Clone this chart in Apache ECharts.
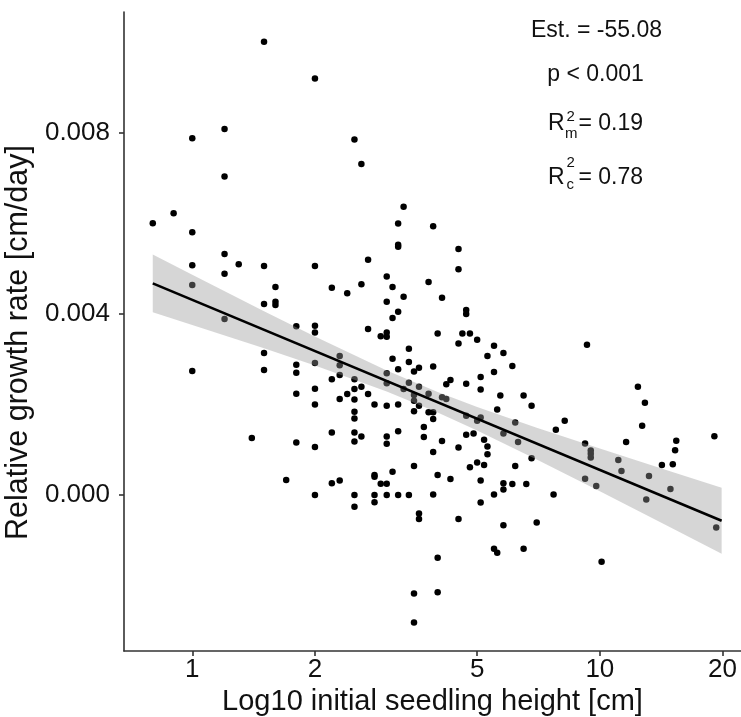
<!DOCTYPE html>
<html>
<head>
<meta charset="utf-8">
<script src="https://cdn.jsdelivr.net/npm/echarts@6/dist/echarts.min.js"></script>
<style>
  html, body { margin: 0; padding: 0; background: #fff; }
  #chart { width: 741px; height: 717px; }
</style>
</head>
<body>
<div id="chart"></div>
<script>
// initial seedling height [cm] and relative growth rate [cm/day]
const heightCm = [
  1.5, 2.0, 1.2, 1.0, 2.5, 2.6, 1.2, 3.3, 0.8, 0.9,
  3.2, 1.0, 3.2, 3.2, 2.7, 1.2, 1.0, 1.3, 1.5, 2.0,
  1.2, 3.0, 3.8, 2.6, 3.1, 1.6, 2.2, 2.4, 3.3, 3.0,
  1.5, 1.6, 1.6, 3.2, 3.1, 1.0, 1.2, 1.8, 2.0, 2.7,
  3.9, 4.5, 4.5, 4.1, 4.7, 4.7,
  2.0, 2.9, 3.0, 3.0, 3.4, 1.5, 3.1, 3.4, 3.5, 3.6,
  1.0, 1.5, 1.8, 1.8, 2.0, 2.3, 2.3, 2.3, 2.2, 3.2,
  3.0, 3.0, 3.4, 3.6, 3.5, 3.5, 3.3, 2.5, 2.6, 2.5,
  2.4, 2.3, 2.7, 2.5, 1.8, 2.0, 2.0, 2.8, 3.0, 3.2,
  3.6, 3.5, 3.8, 3.9, 2.5, 2.5, 3.7, 3.7, 3.2, 3.0,
  3.0, 2.6, 2.5, 2.5, 2.2, 1.4, 1.8, 2.0, 3.5, 3.1,
  2.8, 2.8, 2.9, 3.0, 2.3, 2.2, 1.7, 2.0, 2.5, 2.8,
  3.0, 3.2, 3.4, 2.5, 2.8, 3.6, 3.6, 3.5, 3.5,
  4.0, 4.6, 4.8, 4.5, 5.0, 5.5, 5.3, 5.8, 6.1, 5.5,
  3.9, 9.3, 5.1, 5.1, 4.7, 4.2, 4.3, 3.8, 4.1, 4.2,
  3.9, 5.7, 6.5, 5.6, 6.8, 4.7, 5.0, 5.1, 6.2, 5.8,
  6.3, 4.7, 4.9, 4.1, 4.5, 5.2, 5.3, 5.3, 5.0, 4.8,
  5.2, 3.9, 4.0, 4.3, 5.1, 5.8, 5.8, 6.1, 6.6, 6.2,
  6.8, 3.9, 5.5, 5.1, 7.7, 4.5, 5.8, 7.0, 5.5, 5.6,
  6.5, 4.0, 4.0, 10.1, 7.8, 8.2, 9.2, 9.5, 9.5, 9.5,
  9.2, 9.8, 12.4, 12.9, 12.7, 11.6, 11.1, 11.3, 13.2, 13.0,
  14.2, 15.1, 15.3, 15.4, 14.9, 19.1, 19.3
];
const growthRate = [
  0.01001, 0.00920, 0.00808, 0.00788, 0.00785, 0.00731, 0.00703, 0.00636, 0.00600, 0.00622,
  0.00599, 0.00580, 0.00548, 0.00552, 0.00519, 0.00532, 0.00507, 0.00509, 0.00505, 0.00505,
  0.00488, 0.00482, 0.00470, 0.00465, 0.00459, 0.00459, 0.00457, 0.00445, 0.00437, 0.00426,
  0.00421, 0.00426, 0.00419, 0.00404, 0.00390, 0.00463, 0.00388, 0.00372, 0.00373, 0.00366,
  0.00593, 0.00543, 0.00498, 0.00435, 0.00408, 0.00399,
  0.00358, 0.00350, 0.00358, 0.00349, 0.00322, 0.00313, 0.00300, 0.00293, 0.00272, 0.00280,
  0.00273, 0.00275, 0.00287, 0.00269, 0.00291, 0.00306, 0.00286, 0.00264, 0.00255, 0.00277,
  0.00268, 0.00246, 0.00247, 0.00238, 0.00220, 0.00207, 0.00233, 0.00255, 0.00238, 0.00233,
  0.00222, 0.00211, 0.00222, 0.00210, 0.00223, 0.00234, 0.00199, 0.00199, 0.00196, 0.00199,
  0.00196, 0.00184, 0.00182, 0.00182, 0.00183, 0.00168, 0.00149, 0.00127, 0.00140, 0.00128,
  0.00112, 0.00128, 0.00137, 0.00117, 0.00137, 0.00125, 0.00115, 0.00105, 0.00063, 0.00050,
  0.00043, 0.00039, 0.00024, 0.00024, 0.00031, 0.00025, 0.00032, -0.00001, -0.00001, -0.00001,
  -0.00001, -0.00001, -0.00001, -0.00027, -0.00017, -0.00042, -0.00054, -0.00219, -0.00283,
  0.00356, 0.00356, 0.00356, 0.00334, 0.00342, 0.00329, 0.00306, 0.00313, 0.00284, 0.00271,
  0.00283, 0.00331, 0.00260, 0.00232, 0.00245, 0.00244, 0.00253, 0.00223, 0.00215, 0.00211,
  0.00167, 0.00219, 0.00219, 0.00188, 0.00196, 0.00174, 0.00163, 0.00170, 0.00159, 0.00135,
  0.00116, 0.00132, 0.00135, 0.00118, 0.00104, 0.00121, 0.00106, 0.00089, 0.00071, 0.00060,
  0.00065, 0.00094, 0.00043, 0.00034, 0.00031, 0.00025, 0.00011, 0.00023, 0.00023, 0.00063,
  0.00080, 0.00000, 0.00000, -0.00018, 0.00000, -0.00054, -0.00068, -0.00062, -0.00120, -0.00129,
  -0.00120, -0.00140, -0.00216, -0.00149, 0.00143, 0.00163, 0.00113, 0.00097, 0.00090, 0.00082,
  0.00035, 0.00019, 0.00238, 0.00203, 0.00152, 0.00116, 0.00076, 0.00052, 0.00041, -0.00011,
  0.00065, 0.00067, 0.00098, 0.00119, 0.00012, 0.00129, -0.00073
];

// fitted line and its confidence band
const fitHeights = [0.8, 19.9];
const fitRate = [0.004668, -0.000580];
const bandHeights = [0.8, 1, 1.5, 2, 3, 4, 5, 7, 10, 15, 19.9];
const bandLower = [0.004028, 0.003748, 0.003231, 0.002853, 0.002280, 0.001815, 0.001416, 0.000776, 0.000072, -0.000739, -0.001310];
const bandUpper = [0.005308, 0.004860, 0.004053, 0.003491, 0.002740, 0.002265, 0.001936, 0.001478, 0.001016, 0.000503, 0.000148];

// axes
const xTicks = [1, 2, 5, 10, 20];
const xRange = [0.68, 22.2];
const yTicks = [0, 0.004, 0.008];
const yRange = [-0.003461, 0.010669];

// model statistics
const estText = "Est. = -55.08";
const pText = "p < 0.001";
const r2mValue = "= 0.19";
const r2cValue = "= 0.78";

const FONT = "Liberation Sans, Arial, sans-serif";
const INK = "#111";

const chart = echarts.init(document.getElementById("chart"), null, { renderer: "canvas" });

const points = heightCm.map((h, i) => [Math.log10(h), growthRate[i]]);
const fitLine = fitHeights.map((h, i) => [Math.log10(h), fitRate[i]]);

const axisLineStyle = { color: "#333", width: 1.6 };

const option = {
  animation: false,
  backgroundColor: "#fff",
  grid: { left: 124, right: 0, top: 12, bottom: 66, outerBoundsMode: "none", containLabel: false },
  xAxis: {
    type: "value",
    min: Math.log10(xRange[0]),
    max: Math.log10(xRange[1]),
    axisLine: { show: true, onZero: false, lineStyle: axisLineStyle },
    axisTick: {
      show: true,
      length: 5,
      customValues: xTicks.map(Math.log10),
      lineStyle: axisLineStyle,
    },
    axisLabel: {
      customValues: xTicks.map(Math.log10),
      formatter: (v) => String(Math.round(Math.pow(10, v))),
      fontSize: 26,
      fontFamily: FONT,
      color: INK,
      margin: 6,
    },
    splitLine: { show: false },
    name: "Log10 initial seedling height [cm]",
    nameLocation: "middle",
    nameGap: 34,
    nameTextStyle: { fontSize: 29, fontFamily: FONT, color: INK },
  },
  yAxis: {
    type: "value",
    min: yRange[0],
    max: yRange[1],
    axisLine: { show: true, onZero: false, lineStyle: axisLineStyle },
    axisTick: {
      show: true,
      length: 5,
      customValues: yTicks,
      lineStyle: axisLineStyle,
    },
    axisLabel: {
      customValues: yTicks,
      formatter: (v) => v.toFixed(3),
      fontSize: 26,
      fontFamily: FONT,
      color: INK,
      margin: 14,
    },
    splitLine: { show: false },
    name: "Relative growth rate [cm/day]",
    nameLocation: "middle",
    nameGap: 78,
    nameTextStyle: { fontSize: 30.5, fontFamily: FONT, color: INK, padding: [0, 22, 0, 0] },
  },
  series: [
    {
      name: "seedlings",
      type: "scatter",
      data: points,
      symbolSize: 6.5,
      itemStyle: { color: "#000", opacity: 1 },
      z: 2,
    },
    {
      name: "band",
      type: "custom",
      data: [[0, 0]],
      z: 3,
      silent: true,
      clip: false,
      renderItem: (params, api) => {
        const pts = [];
        bandHeights.forEach((h, i) => pts.push(api.coord([Math.log10(h), bandUpper[i]])));
        for (let i = bandHeights.length - 1; i >= 0; i--) {
          pts.push(api.coord([Math.log10(bandHeights[i]), bandLower[i]]));
        }
        return {
          type: "polygon",
          shape: { points: pts },
          style: { fill: "rgba(153,153,153,0.4)" },
        };
      },
    },
    {
      name: "fit",
      type: "line",
      data: fitLine,
      showSymbol: false,
      lineStyle: { color: "#000", width: 2.6 },
      z: 4,
    },
  ],
  graphic: [
    { type: "text", x: 596.5, y: 30.5, style: { text: estText, font: `23px ${FONT}`, fill: INK, align: "center", verticalAlign: "middle" } },
    { type: "text", x: 595.5, y: 74.5, style: { text: pText, font: `23px ${FONT}`, fill: INK, align: "center", verticalAlign: "middle" } },
    // R2 marginal
    { type: "text", x: 548, y: 124, style: { text: "R", font: `23px ${FONT}`, fill: INK, align: "left", verticalAlign: "middle" } },
    { type: "text", x: 566.5, y: 117, style: { text: "2", font: `15px ${FONT}`, fill: INK, align: "left", verticalAlign: "middle" } },
    { type: "text", x: 565, y: 134, style: { text: "m", font: `15px ${FONT}`, fill: INK, align: "left", verticalAlign: "middle" } },
    { type: "text", x: 578.5, y: 124, style: { text: r2mValue, font: `23px ${FONT}`, fill: INK, align: "left", verticalAlign: "middle" } },
    // R2 conditional
    { type: "text", x: 548, y: 177.5, style: { text: "R", font: `23px ${FONT}`, fill: INK, align: "left", verticalAlign: "middle" } },
    { type: "text", x: 566.5, y: 163, style: { text: "2", font: `15px ${FONT}`, fill: INK, align: "left", verticalAlign: "middle" } },
    { type: "text", x: 566.5, y: 185, style: { text: "c", font: `15px ${FONT}`, fill: INK, align: "left", verticalAlign: "middle" } },
    { type: "text", x: 578.5, y: 177.5, style: { text: r2cValue, font: `23px ${FONT}`, fill: INK, align: "left", verticalAlign: "middle" } },
  ],
};

chart.setOption(option);
window.addEventListener("resize", () => chart.resize());
</script>
</body>
</html>
